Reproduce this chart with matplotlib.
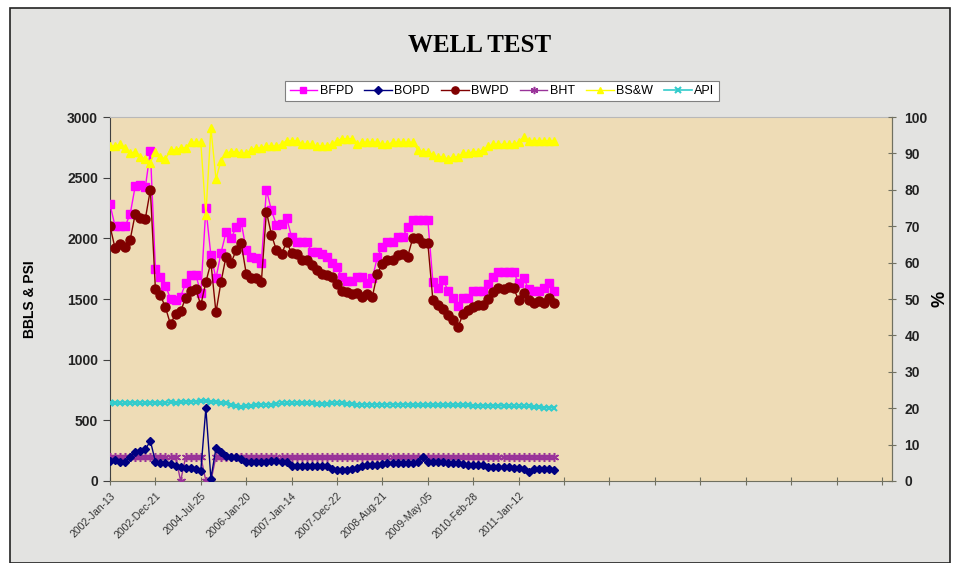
import matplotlib.pyplot as plt
from matplotlib.patches import Rectangle

plt.rcParams['font.family'] = ['Liberation Sans', 'DejaVu Sans']

# tick labels shown on the category axis (one every 9 tests)
dates = ['2002-Jan-13', '2002-Dec-21', '2004-Jul-25', '2006-Jan-20', '2007-Jan-14',
         '2007-Dec-22', '2008-Aug-21', '2009-May-05', '2010-Feb-28', '2011-Jan-12']

# barrels / psi (left axis)
bfpd = [2280, 2100, 2100, 2100, 2200, 2430, 2440, 2420, 2720, 1750,
        1680, 1610, 1500, 1490, 1520, 1630, 1700, 1700, 1550, 2250,
        1860, 1670, 1880, 2050, 2000, 2090, 2135, 1900, 1845, 1840,
        1800, 2400, 2230, 2110, 2120, 2170, 2010, 1970, 1970, 1970,
        1890, 1890, 1870, 1846, 1800, 1760, 1680, 1650, 1650, 1680,
        1680, 1630, 1670, 1846, 1930, 1970, 1970, 2010, 2010, 2090,
        2150, 2150, 2150, 2150, 1640, 1590, 1660, 1570, 1510, 1440,
        1510, 1510, 1570, 1570, 1570, 1620, 1680, 1720, 1720, 1720,
        1720, 1630, 1670, 1580, 1570, 1570, 1590, 1630, 1570]

bopd = [165, 170, 160, 160, 200, 240, 245, 260, 330, 160,
        150, 145, 140, 120, 115, 110, 105, 95, 85, 600,
        20, 270, 240, 205, 200, 195, 180, 160, 160, 160,
        160, 160, 165, 165, 160, 155, 125, 120, 120, 120,
        120, 120, 120, 120, 95, 90, 90, 90, 95, 110,
        125, 130, 130, 130, 140, 150, 150, 150, 150, 150,
        150, 160, 200, 160, 155, 155, 155, 150, 145, 145,
        140, 135, 135, 130, 130, 115, 115, 115, 115, 115,
        110, 110, 100, 75, 95, 100, 100, 100, 90]

bwpd = [2100, 1920, 1950, 1930, 1990, 2200, 2170, 2160, 2400, 1580,
        1530, 1430, 1290, 1380, 1400, 1510, 1570, 1580, 1450, 1640,
        1800, 1390, 1640, 1850, 1800, 1900, 1960, 1710, 1670, 1670,
        1640, 2220, 2030, 1900, 1870, 1970, 1880, 1870, 1820, 1820,
        1780, 1740, 1710, 1700, 1680, 1620, 1570, 1560, 1540, 1550,
        1520, 1540, 1520, 1710, 1790, 1820, 1820, 1860, 1870, 1850,
        2000, 2000, 1960, 1960, 1490, 1450, 1420, 1370, 1330, 1270,
        1380, 1410, 1430, 1450, 1450, 1500, 1560, 1590, 1580, 1600,
        1590, 1490, 1550, 1490, 1470, 1480, 1470, 1510, 1470]

bht = [200, 200, 200, 200, 200, 200, 200, 200, 200, 200,
       200, 200, 200, 200, 0, 200, 200, 200, 200, 0,
       0, 200, 200, 200, 200, 200, 200, 200, 200, 200,
       200, 200, 200, 200, 200, 200, 200, 200, 200, 200,
       200, 200, 200, 200, 200, 200, 200, 200, 200, 200,
       200, 200, 200, 200, 200, 200, 200, 200, 200, 200,
       200, 200, 200, 200, 200, 200, 200, 200, 200, 200,
       200, 200, 200, 200, 200, 200, 200, 200, 200, 200,
       200, 200, 200, 200, 200, 200, 200, 200, 200]

api = [640, 645, 640, 640, 645, 645, 640, 640, 645, 645,
       640, 645, 650, 645, 650, 650, 655, 655, 660, 660,
       655, 650, 645, 640, 630, 615, 610, 615, 620, 625,
       630, 630, 630, 635, 640, 640, 640, 640, 645, 640,
       640, 635, 635, 635, 640, 640, 640, 635, 635, 630,
       630, 630, 630, 630, 630, 630, 630, 630, 630, 630,
       625, 625, 625, 625, 625, 625, 625, 625, 625, 625,
       625, 625, 620, 620, 620, 620, 620, 620, 620, 615,
       615, 615, 615, 615, 610, 610, 605, 605, 605]

# water cut % (right axis)
bsw = [92, 92, 92.5, 91.5, 90, 90.5, 89, 88.5, 87.5, 90.5,
       89, 88.5, 91, 91, 91.5, 91.5, 93, 93, 93, 73,
       97, 83, 88, 90, 90.5, 90.5, 90, 90, 91, 91.5,
       91.5, 92, 92, 92, 92.5, 93.5, 93.5, 93.5, 92.5, 92.5,
       92.5, 92, 92, 92, 92.5, 93.5, 94, 94, 94, 92.5,
       93, 93, 93, 93, 92.5, 92.5, 93, 93, 93, 93,
       93, 91, 90.5, 90.5, 89.5, 89, 89, 88.5, 89, 89,
       90, 90, 90.5, 90.5, 91, 92, 92.5, 92.5, 92.5, 92.5,
       92.5, 93, 94.5, 93.5, 93.5, 93.5, 93.5, 93.5, 93.5]

x = list(range(len(bfpd)))
W, H = 954, 563

fig = plt.figure(figsize=(W / 100, H / 100), dpi=100)
fig.patch.set_facecolor('white')
fig.patches.append(Rectangle((10 / W, 0), 940 / W, 1 - 8 / H, transform=fig.transFigure,
                             facecolor='#e3e3e1', edgecolor='#222222', lw=1.2, zorder=-10))

ax = fig.add_axes([110 / W, 1 - 481 / H, 782 / W, 364 / H])
ax.set_facecolor('#eedcb6')

h_bfpd, = ax.plot(x, bfpd, color='#ff00ff', lw=1, marker='s', ms=6, label='BFPD', zorder=3)
h_bwpd, = ax.plot(x, bwpd, color='#800000', lw=1, marker='o', ms=6.5, label='BWPD', zorder=4)
h_api, = ax.plot(x, api, color='#33cccc', lw=1.2, marker='x', ms=5, mew=1.5, label='API', zorder=3)
h_bht, = ax.plot(x, bht, color='#993399', lw=1, marker=(6, 2, 0), ms=6.5, mew=1.1, label='BHT', zorder=4)
h_bopd, = ax.plot(x, bopd, color='#000080', lw=1, marker='D', ms=4.5, label='BOPD', zorder=5)

ax.set_xlim(0, 155)
ax.set_ylim(0, 3000)
ax.set_yticks(range(0, 3001, 500))
ticks = list(range(0, 154, 9))
ax.set_xticks(ticks)
ax.set_xticklabels(dates + [''] * (len(ticks) - len(dates)), rotation=45, ha='right',
                   rotation_mode='anchor', fontsize=7.5, color='#333333')
ax.tick_params(axis='x', direction='inout', length=6, color='#707060', pad=4)
ax.tick_params(axis='y', direction='out', length=5, color='#404040', labelsize=10,
               labelcolor='#222222')
for lab in ax.get_yticklabels():
    lab.set_fontweight('bold')

ax.spines['left'].set_color('#404040')
ax.spines['bottom'].set_color('#707060')
ax.spines['top'].set_color('#b8b8b8')
ax.spines['right'].set_color('#707060')

ax2 = ax.twinx()
h_bsw, = ax2.plot(x, bsw, color='#ffff00', lw=1, marker='^', ms=6, label='BS&W', zorder=3)
ax2.set_ylim(0, 100)
ax2.set_yticks(range(0, 101, 10))
ax2.tick_params(axis='y', direction='inout', length=6, color='#707060', labelsize=10,
                labelcolor='#222222', pad=6)
for lab in ax2.get_yticklabels():
    lab.set_fontweight('bold')
for s in ax2.spines.values():
    s.set_visible(False)
ax2.spines['right'].set_visible(True)
ax2.spines['right'].set_color('#707060')

fig.text(480 / W, 1 - 45 / H, 'WELL TEST', family='Liberation Serif', weight='bold',
         fontsize=18, ha='center', va='center')
fig.text(30 / W, 1 - 299 / H, 'BBLS & PSI', rotation=90, weight='bold', fontsize=10,
         ha='center', va='center')
fig.text(940 / W, 1 - 299 / H, '%', rotation=90, weight='bold', fontsize=13,
         ha='center', va='center')

handles = [h_bfpd, h_bopd, h_bwpd, h_bht, h_bsw, h_api]
leg = fig.legend(handles, [h.get_label() for h in handles], loc='center',
                 bbox_to_anchor=(502 / W, 1 - 91 / H), ncol=6, fontsize=9,
                 frameon=True, fancybox=False, edgecolor='#808080', facecolor='white',
                 framealpha=1, handlelength=2.2, handletextpad=0.2, columnspacing=0.9,
                 borderpad=0.35, numpoints=1, markerscale=0.8)
leg.get_frame().set_linewidth(0.8)

fig.savefig('out.png', dpi=100)
